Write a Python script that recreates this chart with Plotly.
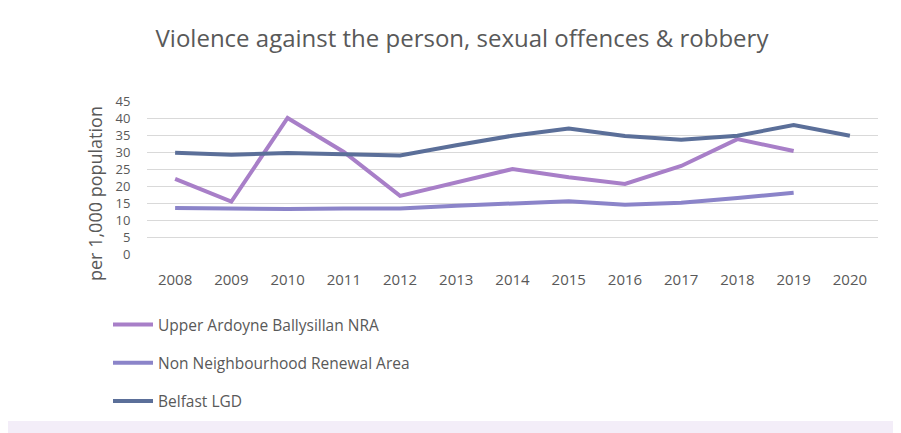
import plotly.graph_objects as go

years = ['2008', '2009', '2010', '2011', '2012', '2013', '2014',
         '2015', '2016', '2017', '2018', '2019', '2020']
upper_ardoyne = [22.1, 15.4, 40.0, 30.0, 17.1, 21.0, 25.0, 22.6, 20.6, 25.9, 33.8, 30.3]
non_nra = [13.5, 13.4, 13.2, 13.4, 13.4, 14.2, 14.9, 15.5, 14.5, 15.1, 16.5, 18.0]
belfast = [29.8, 29.2, 29.7, 29.3, 29.0, 32.0, 34.8, 36.9, 34.7, 33.6, 34.8, 37.9, 34.8]
y_ticks = list(range(0, 50, 5))

series = [
    ('Upper Ardoyne Ballysillan NRA', upper_ardoyne, '#a87fc8'),
    ('Non Neighbourhood Renewal Area', non_nra, '#8b84c9'),
    ('Belfast LGD', belfast, '#5b6f99'),
]

# page body has an 8px margin, so the figure is laid out 8px in from the window
W, H = 893, 425
L, R, T, B = 139, 23, 93, 179

fig = go.Figure()
for i, (name, vals, col) in enumerate(series):
    fig.add_trace(go.Scatter(x=years[:len(vals)], y=vals, name=name, mode='lines',
                             legendgroup=str(i),
                             line=dict(color=col, width=4)))

# helper: figure pixel -> paper coords
def px(x):
    return (x - L) / (W - L - R)


def py(y):
    return (H - B - y) / (H - T - B)


fig.update_layout(
    width=W, height=H,
    margin=dict(l=L, r=R, t=T, b=B, autoexpand=False),
    paper_bgcolor='white', plot_bgcolor='white',
    font=dict(family='Open Sans, sans-serif', color='#595959', size=14),
    title=dict(text='Violence against the person, sexual offences & robbery',
               x=px(454), xanchor='center', xref='paper',
               y=1 - 31 / H, yanchor='middle', yref='container',
               font=dict(size=24, color='#595959')),
    showlegend=True,
    legend=dict(xref='paper', yref='paper', x=px(100), y=py(300),
                xanchor='left', yanchor='top', orientation='v',
                tracegroupgap=15, itemwidth=40,
                font=dict(size=15.5, color='#595959'), bgcolor='rgba(0,0,0,0)'),
    xaxis=dict(type='category', range=[-0.5, 12.5], showgrid=False, showline=False,
               zeroline=False, ticks='outside', ticklen=12, tickcolor='rgba(0,0,0,0)',
               tickangle=0, tickfont=dict(size=15, color='#595959')),
    yaxis=dict(range=[0, 45], tickvals=y_ticks, showgrid=True, gridcolor='#d9d9d9',
               gridwidth=1, zeroline=False, showline=False,
               ticks='outside', ticklen=13, tickcolor='rgba(0,0,0,0)',
               tickfont=dict(size=13, color='#595959')),
    annotations=[
        dict(text='per 1,000 population', textangle=-90, showarrow=False,
             xref='paper', yref='paper', x=px(87), y=py(186),
             xanchor='center', yanchor='middle',
             font=dict(size=18, color='#595959')),
    ],
    shapes=[
        dict(type='rect', xref='paper', yref='paper', x0=px(0), x1=px(W), y0=py(413), y1=py(H),
             fillcolor='#f3edf8', line=dict(width=0), layer='below'),
    ],
)

fig.write_html('out.html')
